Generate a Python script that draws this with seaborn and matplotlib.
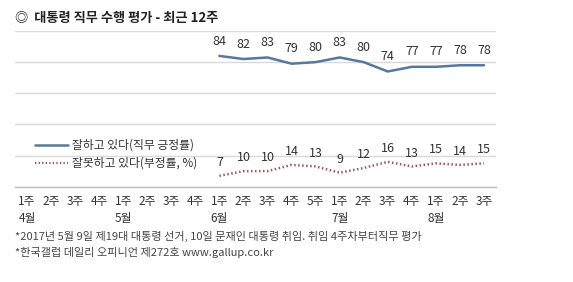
import matplotlib
matplotlib.use("Agg")
import matplotlib.pyplot as plt
import seaborn as sns
import pandas as pd
import numpy as np

sns.set_theme(style="white")
plt.rcParams['font.family'] = ['Noto Sans CJK KR', 'DejaVu Sans']

# ---- data ----
week_labels = ["1주", "2주", "3주", "4주",
               "1주", "2주", "3주", "4주",
               "1주", "2주", "3주", "4주", "5주",
               "1주", "2주", "3주", "4주",
               "1주", "2주", "3주"]
month_labels = ["4월", "5월", "6월", "7월", "8월"]
month_start_idx = [0, 4, 8, 13, 17]
data_start_idx = 8
approval = [84, 82, 83, 79, 80, 83, 80, 74, 77, 77, 78, 78]
disapproval = [7, 10, 10, 14, 13, 9, 12, 16, 13, 15, 14, 15]
series_names = ["잘하고 있다(직무 긍정률)", "잘못하고 있다(부정률, %)"]
title = "◎  대통령 직무 수행 평가 - 최근 12주"
footnotes = ["*2017년 5월 9일 제19대 대통령 선거, 10일 문재인 대통령 취임. 취임 4주차부터직무 평가",
             "*한국갤럽 데일리 오피니언 제272호 www.gallup.co.kr"]

pos = list(range(data_start_idx, data_start_idx + len(approval)))
df = pd.DataFrame({"pos": pos, "approval": approval, "disapproval": disapproval})

W, H = 573, 282
fig = plt.figure(figsize=(W / 100, H / 100), dpi=100)
ax = fig.add_axes([15 / W, 1 - 186.7 / H, (496 - 15) / W, (186.7 - 31) / H])

c_app = "#56789c"
c_dis = "#9b5566"
sns.lineplot(data=df, x="pos", y="approval", ax=ax, color=c_app, linewidth=1.8)
sns.lineplot(data=df, x="pos", y="disapproval", ax=ax, color=c_dis, linewidth=1.8,
             linestyle=(0, (0.6, 1.0)))

for x, v in zip(df["pos"], df["approval"]):
    ax.annotate(str(v), (x, v), xytext=(0, 6), textcoords="offset points",
                ha="center", va="bottom", fontsize=9, color="#333333")
for x, v in zip(df["pos"], df["disapproval"]):
    ax.annotate(str(v), (x, v), xytext=(0, 5), textcoords="offset points",
                ha="center", va="bottom", fontsize=9, color="#333333")

ax.set_xlim(-0.5, len(week_labels) - 0.5)
ax.set_ylim(0, 100)
ax.set_yticks([0, 20, 40, 60, 80, 100])
ax.yaxis.grid(True, color="#d9d9d9", linewidth=1)
ax.set_yticklabels([])
ax.tick_params(axis="y", length=0)
for s in ["top", "right", "left"]:
    ax.spines[s].set_visible(False)
ax.spines["bottom"].set_color("#bfbfbf")
ax.spines["bottom"].set_linewidth(1)
ax.set_xlabel("")
ax.set_ylabel("")

ax.set_xticks(np.arange(len(week_labels)))
ax.set_xticklabels(week_labels, fontsize=8.5, color="#333333")
ax.tick_params(axis="x", which="major", length=0, pad=6)
ax.set_xticks(np.arange(-0.5, len(week_labels)), minor=True)
ax.tick_params(axis="x", which="minor", length=4, color="#bfbfbf", width=1)

for i, m in zip(month_start_idx, month_labels):
    ax.annotate(m, (i, 0), xytext=(0, -23), textcoords="offset points",
                ha="center", va="center", fontsize=8.5, color="#333333",
                annotation_clip=False)

# legend (manual, in figure pixel coordinates)
def fx(px):
    return px / W
def fy(py):
    return 1 - py / H

fig.add_artist(plt.Line2D([fx(35), fx(68)], [fy(145), fy(145)], color="#5a7a94", linewidth=1.8))
fig.add_artist(plt.Line2D([fx(35), fx(68)], [fy(163), fy(163)], color=c_dis, linewidth=1.6,
                          linestyle=(0, (0.6, 1.0))))
fig.text(fx(72), fy(145), series_names[0], fontsize=8.5, color="#333333", va="center", ha="left")
fig.text(fx(72), fy(163), series_names[1], fontsize=8.5, color="#333333", va="center", ha="left")

fig.text(fx(15), fy(18), title, fontsize=9.5, color="#222222", va="center", ha="left",
         fontweight="bold")
fig.text(fx(15), fy(236), footnotes[0], fontsize=8, color="#444444", va="center", ha="left")
fig.text(fx(15), fy(253), footnotes[1], fontsize=8, color="#444444", va="center", ha="left")

fig.savefig("out.png", dpi=100, facecolor="white")
